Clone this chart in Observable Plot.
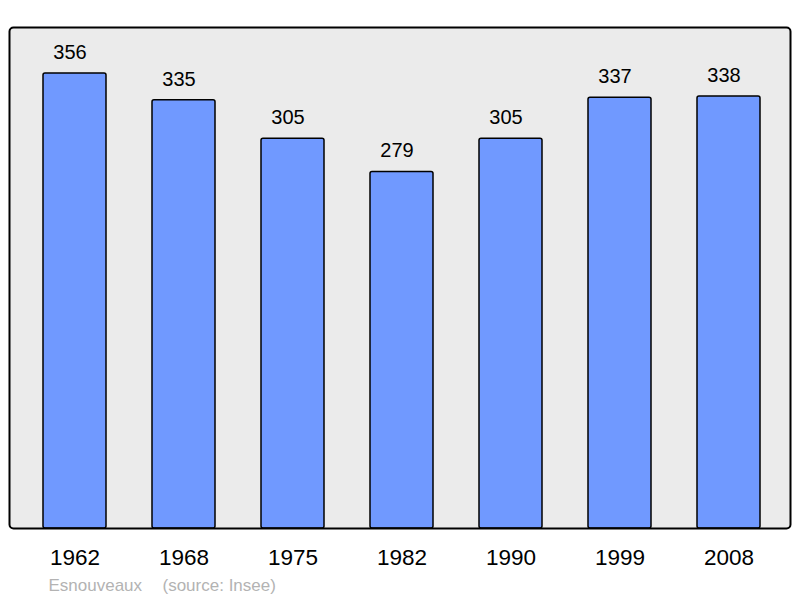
<!DOCTYPE html>
<html>
<head>
<meta charset="utf-8">
<script src="https://cdn.jsdelivr.net/npm/d3@7"></script>
<script src="https://cdn.jsdelivr.net/npm/@observablehq/plot@0.6"></script>
<style>
  html, body { margin: 0; padding: 0; background: #fff; }
  svg { font-family: "Liberation Sans", Arial, sans-serif; }
</style>
</head>
<body>
<div id="chart"></div>
<script>
const years = ["1962", "1968", "1975", "1982", "1990", "1999", "2008"];
const population = [356, 335, 305, 279, 305, 337, 338];
const commune = ["Esnouveaux"];
const source = ["(source: Insee)"];

const data = years.map((y, i) => ({year: y, pop: population[i]}));

const chart = Plot.plot({
  width: 800,
  height: 598,
  marginLeft: 9,
  marginRight: 10,
  marginTop: 27,
  marginBottom: 70,
  style: {fontFamily: "Liberation Sans, Arial, sans-serif", background: "#fff"},
  x: {domain: years, range: [18.4, 784.6], paddingInner: 0.424, paddingOuter: 0.212, label: null},
  y: {domain: [0, 392], axis: null},
  marks: [
    Plot.frame({fill: "#ebebeb", stroke: null, rx: 4}),
    Plot.barY(data, {x: "year", y: "pop", fill: "#7099ff", stroke: "#000", strokeWidth: 1.5, rx: 2}),
    Plot.text(data, {x: "year", y: "pop", text: d => String(d.pop), fontSize: 20, fill: "#000", lineAnchor: "middle", dy: -21, dx: -5}),
    Plot.frame({fill: "none", stroke: "#000", strokeWidth: 2, rx: 4}),
    Plot.axisX({tickSize: 0, tickPadding: 21, fontSize: 22.5, label: null, color: "#000"}),
    Plot.text(commune, {frameAnchor: "bottom-left", textAnchor: "start", lineAnchor: "middle", dx: 39, dy: 57, fontSize: 17, fill: "#b3b3b3"}),
    Plot.text(source, {frameAnchor: "bottom-left", textAnchor: "start", lineAnchor: "middle", dx: 153, dy: 57, fontSize: 17, fill: "#b3b3b3"})
  ]
});
document.getElementById("chart").appendChild(chart);
</script>
</body>
</html>
